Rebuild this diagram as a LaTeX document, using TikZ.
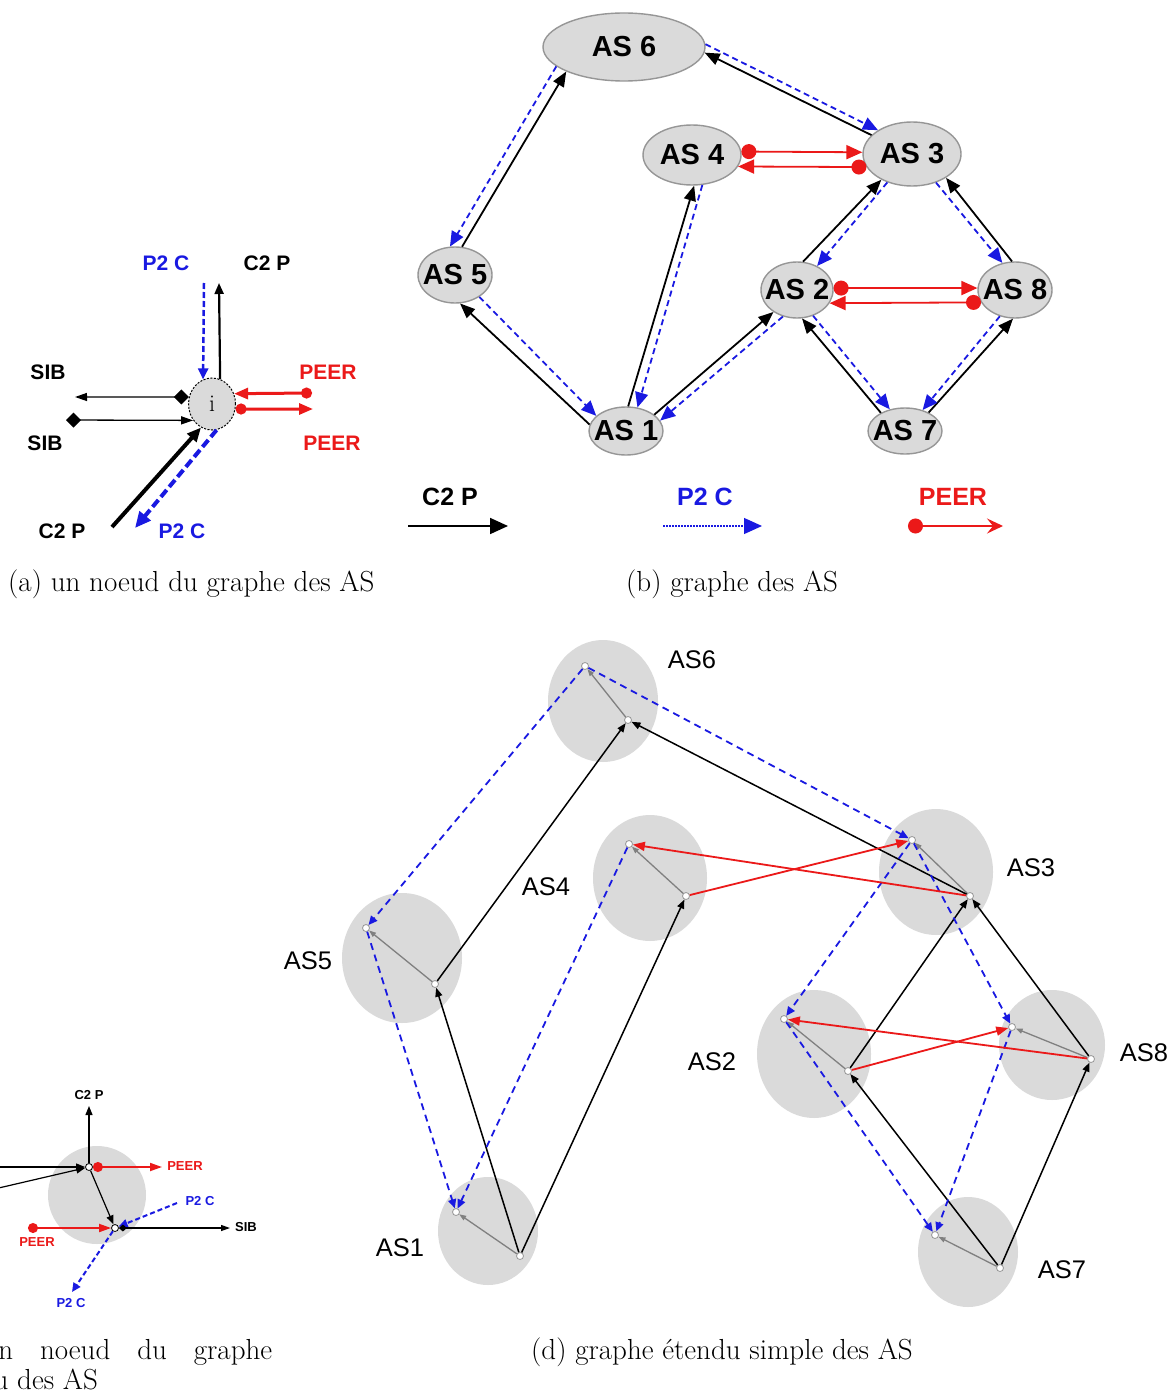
\documentclass[tikz,border=0pt]{standalone}
\usepackage{fontspec}
\newfontfamily\arial{Liberation Sans}
\usetikzlibrary{arrows.meta,shapes.geometric}
\definecolor{bleu}{RGB}{25,25,225}
\definecolor{rouge}{RGB}{235,25,25}
\definecolor{grisclair}{RGB}{218,218,218}
\definecolor{grisbord}{RGB}{150,150,150}

\begin{document}
\begin{tikzpicture}[x=1pt, y=-1pt,
	% panneau (a)
	noeudi/.style={ellipse, fill=grisclair, draw=black, line width=1pt, dash pattern=on 2pt off 1.5pt, inner sep=0pt, minimum width=47pt, minimum height=52pt, font=\fontsize{24}{24}\selectfont},
	etiqa/.style={font=\arial\bfseries\fontsize{21}{22}\selectfont},
	cpa/.style={line width=2.2pt, black, -{Triangle[length=11pt,width=9pt]}},
	pca/.style={line width=2.5pt, bleu, dash pattern=on 6pt off 3pt, -{Triangle[length=11pt,width=10pt]}},
	siba/.style={line width=1.3pt, black, arrows={Diamond[length=15pt,width=15pt]-Triangle[length=12pt,width=8pt]}},
	paira/.style={line width=3pt, rouge, arrows={Circle[length=11pt]-Triangle[length=14pt,width=11pt]}},
	% panneau (b)
	ovale/.style={ellipse, fill=grisclair, draw=grisbord, line width=1.4pt, inner sep=0pt, font=\arial\bfseries\fontsize{29}{30}\selectfont},
	etiqb/.style={font=\arial\bfseries\fontsize{25}{26}\selectfont},
	cp/.style={line width=1.8pt, black, -{Triangle[length=15pt,width=12pt]}},
	pc/.style={line width=1.8pt, bleu, dash pattern=on 6pt off 4pt, -{Triangle[length=15pt,width=13pt]}},
	pair/.style={line width=1.8pt, rouge, arrows={Circle[length=15pt]-Triangle[length=16pt,width=14pt]}},
	% panneaux (c) et (d)
	disque/.style={ellipse, fill=grisclair, draw=none, inner sep=0pt},
	pt/.style={circle, fill=white, draw=grisbord, line width=0.8pt, inner sep=0pt, minimum size=7pt},
	etiqc/.style={font=\arial\bfseries\fontsize{13}{14}\selectfont},
	etiqd/.style={font=\arial\fontsize{25.5}{26}\selectfont},
	cpd/.style={line width=1.5pt, black, -{Triangle[length=9pt,width=7pt]}},
	pcd/.style={line width=1.8pt, bleu, dash pattern=on 7pt off 5pt, -{Triangle[length=9pt,width=8pt]}},
	peerd/.style={line width=1.8pt, rouge, -{Triangle[length=12pt,width=9pt]}},
	interne/.style={line width=1.3pt, black!50, -{Triangle[length=7pt,width=5pt]}},
	legende/.style={anchor=base west, inner sep=0pt, font=\fontsize{29}{30}\selectfont},
	]
	
	\fill[white] (0,0) rectangle (1171,1391);
	\useasboundingbox (0,0) rectangle (1171,1391);
	
	%% =========================================================
	%% (a) UN NOEUD DU GRAPHE DES AS
	%% =========================================================
	\node[noeudi] (i) at (212,404) {i};
	\coordinate (pch) at (204,283);
	\coordinate (cph) at (219,283);
	\coordinate (sibg) at (75,397);
	\coordinate (sibd) at (66,420);
	\coordinate (peerh) at (312,393);
	\coordinate (peerb) at (313,409);
	\coordinate (cpb) at (112,527);
	\coordinate (pcb) at (135,528);
	%% relations
	\draw[pca] (pch) -- (i.110);
	\draw[cpa] (i.72) -- (cph);
	\draw[siba] (i.163) -- (sibg);
	\draw[siba] (sibd) -- (i.221);
	\draw[paira] (peerh) -- (i.25);
	\draw[paira] (i.348) -- (peerb);
	\draw[cpa, line width=4pt, -{Triangle[length=14pt,width=12pt]}] (cpb) -- (i.245);
	\draw[pca, line width=4pt, dash pattern=on 9pt off 4pt, -{Triangle[length=16pt,width=14pt]}] (i.280) -- (pcb);
	%% etiquettes
	\node[etiqa, bleu] (apc1) at (166,263) {P2 C};
	\node[etiqa] (acp1) at (267,263) {C2 P};
	\node[etiqa] (asib1) at (48,372) {SIB};
	\node[etiqa] (asib2) at (45,443) {SIB};
	\node[etiqa, rouge] (apeer1) at (328,372) {PEER};
	\node[etiqa, rouge] (apeer2) at (332,443) {PEER};
	\node[etiqa] (acp2) at (62,531) {C2 P};
	\node[etiqa, bleu] (apc2) at (182,531) {P2 C};
	
	%% =========================================================
	%% (b) GRAPHE DES AS
	%% =========================================================
	\node[ovale, minimum width=162pt, minimum height=68pt] (as6) at (624,47) {\makebox[0pt]{AS 6}};
	\node[ovale, minimum width=98pt, minimum height=60pt] (as4) at (692,155) {\makebox[0pt]{AS 4}};
	\node[ovale, minimum width=98pt, minimum height=64pt] (as3) at (912,154) {\makebox[0pt]{AS 3}};
	\node[ovale, minimum width=74pt, minimum height=56pt] (as5) at (455,275) {\makebox[0pt]{AS 5}};
	\node[ovale, minimum width=72pt, minimum height=56pt] (as2) at (797,290) {\makebox[0pt]{AS 2}};
	\node[ovale, minimum width=74pt, minimum height=56pt] (as8) at (1015,290) {\makebox[0pt]{AS 8}};
	\node[ovale, minimum width=74pt, minimum height=46pt] (as7) at (905,431) {\makebox[0pt]{AS 7}};
	\node[ovale, minimum width=74pt, minimum height=48pt] (as1) at (626,431) {\makebox[0pt]{AS 1}};
	%% client -> fournisseur
	\foreach \de/\vers in {as5.76/as6.203, as3.155/as6.356, as1.85/as4.274,
		as1.170/as5.280, as1.30/as2.223, as2.78/as3.220, as8.96/as3.325,
		as7.143/as2.280, as7.38/as8.266}
	\draw[cp] (\de) -- (\vers);
	%% fournisseur -> client
	\foreach \de/\vers in {as6.196/as5.100, as6.2/as3.145, as4.289/as1.64,
		as5.318/as1.153, as2.242/as1.17, as3.229/as2.50, as3.310/as8.115,
		as2.302/as7.125, as8.240/as7.50}
	\draw[pc] (\de) -- (\vers);
	%% pairs
	\foreach \de/\vers in {as4.4/as3.178, as3.196/as4.346, as2.3/as8.177, as8.200/as2.338}
	\draw[pair] (\de) -- (\vers);
	%% legende
	\node[etiqb] (lcp) at (450,497) {C2 P};
	\node[etiqb, bleu] (lpc) at (705,497) {P2 C};
	\node[etiqb, rouge] (lpeer) at (953,497) {PEER};
	\coordinate (lcp1) at (408,526);  \coordinate (lcp2) at (508,526);
	\coordinate (lpc1) at (663,526);  \coordinate (lpc2) at (762,526);
	\coordinate (lpe1) at (908,526);  \coordinate (lpe2) at (1003,526);
	\draw[cp, -{Triangle[length=18pt,width=16pt]}] (lcp1) -- (lcp2);
	\draw[pc, line width=1.2pt, dash pattern=on 1.5pt off 1.5pt, -{Triangle[length=18pt,width=16pt]}] (lpc1) -- (lpc2);
	\draw[rouge, line width=1.8pt, arrows={Circle[length=15pt]-Stealth[length=16pt,width=15pt,inset=6pt]}] (lpe1) -- (lpe2);
	
	\node[legende] (capa) at (8,591) {(a) un noeud du graphe des AS};
	\node[legende] (capb) at (626,591) {(b) graphe des AS};
	
	%% =========================================================
	%% (c) UN NOEUD DU GRAPHE ETENDU (coupe a gauche)
	%% =========================================================
	\begin{scope}
		\clip (0,1060) rectangle (300,1391);
		\node[disque, minimum width=98pt, minimum height=98pt] (cc) at (97,1195) {};
		\node[pt, draw=black] (hu) at (89,1167) {};
		\node[pt, draw=black] (hl) at (115,1228) {};
		\coordinate (ccp) at (89,1106);
		\coordinate (cg1) at (-10,1167);
		\coordinate (cg2) at (-10,1190);
		\coordinate (cpe1) at (162,1167);
		\coordinate (cpe2) at (28,1228);
		\coordinate (cpc1) at (177,1203);
		\coordinate (csib) at (230,1228);
		\coordinate (cpc2) at (72,1292);
		\draw[cpd, line width=1.2pt] (hu) -- (ccp);
		\draw[cpd, line width=1.2pt] (cg1) -- (hu);
		\draw[cpd, line width=1.2pt] (cg2) -- (hu);
		\draw[cpd, line width=1.2pt] (hu) -- (hl);
		\draw[rouge, line width=1.8pt, arrows={Circle[length=10pt]-Triangle[length=12pt,width=8pt]}] (hu) -- (cpe1);
		\draw[rouge, line width=1.8pt, arrows={Circle[length=10pt]-Triangle[length=12pt,width=8pt]}] (cpe2) -- (hl);
		\draw[pcd, line width=2pt, dash pattern=on 5pt off 3pt] (cpc1) -- (hl);
		\draw[pcd, line width=2pt, dash pattern=on 5pt off 3pt] (hl) -- (cpc2);
		\draw[line width=1.2pt, arrows={Diamond[length=8pt,width=7pt]-Triangle[length=9pt,width=6pt]}] (hl) -- (csib);
		\node[etiqc] (ccp2) at (89,1095) {C2 P};
		\node[etiqc, rouge] (cpeer1) at (185,1166) {PEER};
		\node[etiqc, bleu] (cpc3) at (200,1201) {P2 C};
		\node[etiqc] (csib2) at (246,1227) {SIB};
		\node[etiqc, rouge] (cpeer2) at (37,1242) {PEER};
		\node[etiqc, bleu] (cpc4) at (71,1303) {P2 C};
		\node[legende, text width=348pt, align=justify] (capc) at (-76,1359)
		{(c) un noeud du graphe\linebreak\hspace*{6pt}étendu des AS};
	\end{scope}
	
	%% =========================================================
	%% (d) GRAPHE ETENDU SIMPLE DES AS
	%% =========================================================
	\foreach \k/\cx/\cy/\lx/\ly in {6/603/701/110/122, 4/650/878/114/126,
		5/402/958/120/130, 3/936/872/114/126, 2/814/1054/114/128,
		8/1052/1045/106/110, 1/488/1231/100/108, 7/968/1252/100/110}
	\node[disque, minimum width=\lx pt, minimum height=\ly pt] (c\k) at (\cx,\cy) {};
	%% entree (e) et sortie (s) de chaque AS
	\foreach \k/\ex/\ey/\sx/\sy in {6/585/666/628/720, 4/629/844/686/896,
		5/366/928/435/984, 3/912/840/970/896, 2/784/1019/848/1071,
		8/1012/1027/1091/1059, 1/456/1212/520/1256, 7/935/1235/1000/1268}{
		\node[pt] (e\k) at (\ex,\ey) {};
		\node[pt] (s\k) at (\sx,\sy) {};}
	\foreach \k/\lx/\ly in {6/692/660, 4/546/887, 5/308/961, 3/1031/868,
		2/712/1062, 8/1144/1053, 1/400/1248, 7/1062/1270}
	\node[etiqd] (n\k) at (\lx,\ly) {AS\k};
	%% arcs
	\foreach \k in {1,...,8}
	\draw[interne] (s\k) -- (e\k);
	\foreach \de/\vers in {s5/s6, s3/s6, s1/s5, s1/s4, s2/s3, s8/s3, s7/s2, s7/s8}
	\draw[cpd] (\de) -- (\vers);
	\foreach \de/\vers in {e6/e5, e6/e3, e5/e1, e4/e1, e3/e2, e3/e8, e2/e7, e8/e7}
	\draw[pcd] (\de) -- (\vers);
	\foreach \de/\vers in {s4/e3, s3/e4, s2/e8, s8/e2}
	\draw[peerd] (\de) -- (\vers);
	
	\node[legende] (capd) at (531,1359) {(d) graphe étendu simple des AS};
	
\end{tikzpicture}
\end{document}
